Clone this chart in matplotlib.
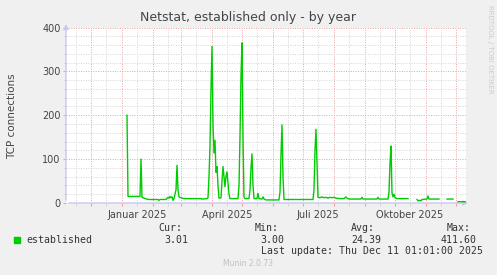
import numpy as np
import matplotlib
matplotlib.use("Agg")
import matplotlib.pyplot as plt
import matplotlib.dates as mdates
from matplotlib.patches import Rectangle
from matplotlib.ticker import MultipleLocator, FuncFormatter
from datetime import datetime, timedelta

# graph covers 400 days ending at the last update
end = datetime(2025, 12, 11, 1, 1)
start = end - timedelta(days=400)

# days after start (nan = no data)
day = [61, 62, 74, 75, 76, 78, 82, 92, 93, 94, 100, 102, 103, 104, 105, 106, 107, 108,
       110, 111, 112, 113, 115, 118, 135, 136, 141, 142, 143, 144, 145, 146, 147, 148,
       149, 150, 151, 152, 153, 155, 156, 157, 158, 159, 160, 161, 162, 163, 164, 172,
       173, 174, 175, 176, 177, 178, 179, 183, 184, 185, 186, 187, 188, 191, 192, 193,
       196, 197, 198, 200, 213, 214, 215, 216, 217, 218, 247, 248, 249, 250, 251, 252,
       254, 256, 258, 260, 262, 264, 266, 268, 270, 274, 278, 280, 281, 283, 295, 296,
       297, 311, 312, 313, 322, 323, 324, 325, 326, 327, 328, 329, 331, 342, 346, 351,
       352, 354, 355, 356, 361, 362, 363, 373, 377, 381, 387, 390, 392, 400]
established = [200, 15, 15, 100, 13, 11, 8, 8, 6, 8, 8, 13, 11, 15, 12, 14, 6, 10,
               30, 86, 30, 14, 12, 10, 10, 9, 10, 12, 60, 130, 260, 357, 180, 114,
               143, 70, 83, 40, 11, 12, 50, 83, 60, 37, 60, 71, 45, 20, 10, 10,
               40, 150, 290, 365, 150, 14, 10, 10, 30, 80, 112, 40, 10, 10, 22, 10,
               9, 14, 9, 7, 7, 25, 110, 178, 60, 8, 8, 30, 120, 168, 90, 13,
               12, 14, 12, 13, 11, 13, 12, 13, 11, 10, 10, 14, 11, 9, 9, 13,
               9, 9, 13, 9, 9, 25, 90, 130, 23, 14, 20, 12, 10, 10, np.nan, 8,
               5, 6, 5, 8, 9, 16, 9, 9, np.nan, 9, 9, np.nan, 3, 3]

stats = {"Cur:": "3.01", "Min:": "3.00", "Avg:": "24.39", "Max:": "411.60"}
month_names = {1: "Januar", 4: "April", 7: "Juli", 10: "Oktober"}

W, H = 497, 275
fig = plt.figure(figsize=(W / 100, H / 100), dpi=100, facecolor="#f0f0f0")
ax = fig.add_axes([66 / W, (H - 203) / H, 400 / W, 175.5 / H])
ax.set_facecolor("white")

x = [start + timedelta(days=d) for d in day]
ax.plot(x, established, color="#00cc00", lw=1.0, zorder=5)

ax.set_xlim(start, end)
ax.set_ylim(0, 400)

# grid like rrdtool: red major, grey minor, both dotted
ax.xaxis.set_major_locator(mdates.MonthLocator())
ax.xaxis.set_minor_locator(mdates.MonthLocator(bymonthday=16))
ax.yaxis.set_major_locator(MultipleLocator(100))
ax.yaxis.set_minor_locator(MultipleLocator(20))
ax.grid(which="minor", color="#d4d4d4", ls=(0, (1, 1.5)), lw=0.7)
ax.grid(which="major", color="#eca0a0", ls=(0, (1, 1.5)), lw=0.7)
ax.set_axisbelow(True)

ax.xaxis.set_major_formatter(FuncFormatter(lambda v, p: ""))


def month_label(v, pos):
    d = mdates.num2date(v)
    return f"{month_names[d.month]} {d.year}" if d.month in month_names else ""


ax.xaxis.set_minor_formatter(FuncFormatter(month_label))
ax.tick_params(axis="x", which="both", length=2, labelsize=7, labelcolor="#444444",
               pad=3)
ax.tick_params(axis="x", which="major", color="#eca0a0")
ax.tick_params(axis="x", which="minor", color="#d4d4d4")
ax.tick_params(axis="y", which="both", length=2, labelsize=7, labelcolor="#444444",
               pad=2)
ax.tick_params(axis="y", which="major", color="#eca0a0")
ax.tick_params(axis="y", which="minor", color="#d4d4d4")

for s in ax.spines.values():
    s.set_visible(False)

# axes with small arrows
axis_col = "#c8c8f0"
ax.annotate("", xy=(1.012, 0), xytext=(0, 0), xycoords="axes fraction",
            arrowprops=dict(arrowstyle="-|>", color=axis_col, lw=1, mutation_scale=7),
            annotation_clip=False)
ax.annotate("", xy=(0, 1.035), xytext=(0, 0), xycoords="axes fraction",
            arrowprops=dict(arrowstyle="-|>", color=axis_col, lw=1, mutation_scale=7),
            annotation_clip=False)

fig.text(248 / W, 1 - 18 / H, "Netstat, established only - by year", ha="center",
         va="center", fontsize=9, color="#444444")
fig.text(12 / W, 1 - 116 / H, "TCP connections", rotation=90, ha="center",
         va="center", fontsize=7.5, color="#444444")
fig.text(490 / W, 1 - 5 / H, "RRDTOOL / TOBI OETIKER", rotation=270, ha="center",
         va="top", fontsize=5, color="#cccccc")

mono = dict(family="DejaVu Sans Mono", fontsize=7.1, color="#333333", va="center")
fig.patches.append(Rectangle((14 / W, 1 - 243 / H), 6 / W, 6 / H,
                             transform=fig.transFigure, color="#00cc00"))
fig.text(26 / W, 1 - 240 / H, "established", **mono)
head_x = [158, 255, 351, 447]
val_x = [188, 284, 381, 477]
for (k, v), hx, vx in zip(stats.items(), head_x, val_x):
    fig.text(hx / W, 1 - 228 / H, k, **mono)
    fig.text(vx / W, 1 - 240 / H, v, ha="right", **mono)
fig.text(261 / W, 1 - 251 / H, "Last update: Thu Dec 11 01:01:00 2025", **mono)
fig.text(248 / W, 1 - 264 / H, "Munin 2.0.73", ha="center", va="center",
         fontsize=5.5, color="#c0c0c0")

fig.savefig("out.png", dpi=100, facecolor=fig.get_facecolor())
